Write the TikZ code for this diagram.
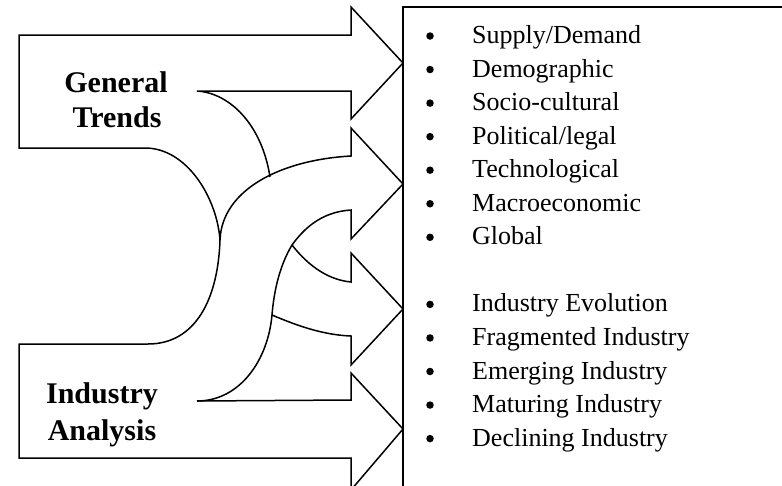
\documentclass[tikz,border=0pt]{standalone}
\usepackage{fontspec}
\setmainfont{Liberation Serif}
\begin{document}
\begin{tikzpicture}[x=1pt,y=-1pt,
  outl/.style={line width=1.5pt,line join=miter},
  boxline/.style={line width=2pt},
  lbl/.style={font=\fontsize{30}{35}\selectfont\bfseries,anchor=base,inner sep=0pt},
  item/.style={font=\fontsize{26}{30}\selectfont,anchor=base west,inner sep=0pt},
  bul/.style={circle,fill=black,inner sep=0pt,minimum size=7.5pt}]
\useasboundingbox (0,0) rectangle (782,485);
\clip (0,0) rectangle (782,485);
% named points
\coordinate (cusp) at (220,240);
\coordinate (jA) at (292,245);
\coordinate (jB) at (272,315);
\coordinate (jC) at (270,177);
% General Trends arrow with straight branch
\draw[outl] (145,148) -- (19,148) -- (19,35) -- (351,35) -- (351,7) -- (403,63)
  -- (351,119) -- (351,91) -- (197,91) .. controls (230,93) and (262,125) .. (jC);
\draw[outl] (145,148) .. controls (187,148) and (217,198) .. (cusp);
% Industry Analysis arrow with straight branch
\draw[outl] (cusp) .. controls (218,300) and (195,344) .. (148,344) -- (19,344)
  -- (19,458) -- (351,458) -- (351,490) -- (403,429) -- (351,373) -- (351,400) -- (197,401);
% arrow 2
\draw[outl] (cusp) .. controls (222,190) and (280,160) .. (351,156) -- (351,128)
  -- (403,184) -- (351,239) -- (351,210)
  .. controls (320,212) and (303,230) .. (jA)
  .. controls (280,265) and (274,290) .. (jB)
  .. controls (268,360) and (240,401) .. (197,401);
% arrow 3
\draw[outl] (jA) .. controls (310,268) and (330,280) .. (351,282) -- (351,253)
  -- (403,309) -- (351,365) -- (351,336) .. controls (325,335) and (300,327) .. (jB);
% box
\draw[boxline] (403,495) -- (403,7) -- (800,7);
% labels
\node[lbl] (g1) at (116,92) {General};
\node[lbl] (g2) at (117,127) {Trends};
\node[lbl] (i1) at (102,403) {Industry};
\node[lbl] (i2) at (102,440) {Analysis};
% list
\foreach \k/\t [count=\n] in {0/Supply\slash Demand,1/Demographic,2/Socio-cultural,3/Political\slash legal,4/Technological,5/Macroeconomic,6/Global,8/Industry Evolution,9/Fragmented Industry,10/Emerging Industry,11/Maturing Industry,12/Declining Industry}{
  \node[bul] (b\n) at (430,36+33.55*\k) {};
  \node[item] (t\n) at (472,43.5+33.55*\k) {\t};
}
\end{tikzpicture}
\end{document}
